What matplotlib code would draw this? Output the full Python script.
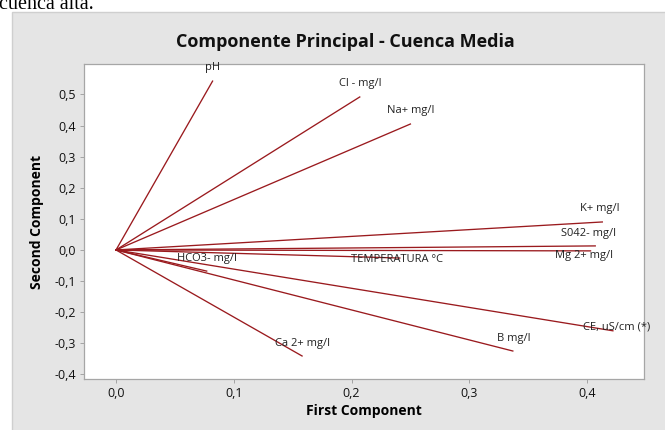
import matplotlib.pyplot as plt
from matplotlib.patches import Rectangle
from matplotlib.ticker import FuncFormatter

# Loadings (first / second component)
variables = ["pH", "Cl - mg/l", "Na+ mg/l", "K+ mg/l", "S042- mg/l", "Mg 2+ mg/l",
             "TEMPERATURA °C", "HCO3- mg/l", "Ca 2+ mg/l", "B mg/l", "CE, uS/cm (*)"]
pc1 = [0.082, 0.207, 0.250, 0.413, 0.407, 0.403, 0.241, 0.077, 0.158, 0.337, 0.422]
pc2 = [0.543, 0.492, 0.405, 0.090, 0.013, -0.003, -0.026, -0.068, -0.341, -0.325, -0.260]

# label offsets in points (x, y) from the vector tip
label_offsets = [(0, 10), (0, 10), (0, 10), (-2, 10), (-5, 9), (-5, -3), (-2, -1),
                 (0, 9), (0, 9), (1, 9), (3, 3)]

line_color = "#9A1A1E"
bg_gray = "#E5E5E5"

plt.rcParams["font.family"] = ["Open Sans", "DejaVu Sans"]

fig = plt.figure(figsize=(6.65, 4.3), dpi=100)
fig.patch.set_facecolor("white")

# gray frame of the Minitab graph
fig.patches.append(Rectangle((12 / 665, -0.01), 1, 1.01 - 12 / 430, transform=fig.transFigure,
                             facecolor=bg_gray, edgecolor="#CFCFCF", linewidth=1, zorder=-10))
# leftover caption from the page above the chart
fig.text(-0.002, 1 - 9 / 430, "cuenca alta.", family="Liberation Serif", fontsize=14.5,
         va="baseline", ha="left", color="black")

ax = fig.add_axes([84 / 665, 1 - 379 / 430, (644 - 84) / 665, (379 - 64) / 430])
ax.set_facecolor("white")

for x, y, name, off in zip(pc1, pc2, variables, label_offsets):
    ax.plot([0, x], [0, y], color=line_color, linewidth=0.95)
    ax.annotate(name, (x, y), xytext=off, textcoords="offset points",
                ha="center", va="center", fontsize=8, color="#222222")

ax.set_xlim(-0.0272, 0.4484)
ax.set_ylim(-0.415, 0.598)
ax.set_xticks([0.0, 0.1, 0.2, 0.3, 0.4])
ax.set_yticks([-0.4, -0.3, -0.2, -0.1, 0.0, 0.1, 0.2, 0.3, 0.4, 0.5])
comma = FuncFormatter(lambda v, p: f"{v:.1f}".replace(".", ","))
ax.xaxis.set_major_formatter(comma)
ax.yaxis.set_major_formatter(comma)
ax.tick_params(axis="both", labelsize=9, length=3, width=0.6, color="#999999",
               labelcolor="#111111", pad=3)

for side in ["top", "right", "left", "bottom"]:
    ax.spines[side].set_color("#A6A6A6")
    ax.spines[side].set_linewidth(0.9)

ax.set_xlabel("First Component", fontsize=10, fontweight="bold", labelpad=3)
ax.set_ylabel("Second Component", fontsize=10, fontweight="bold", labelpad=7)
fig.text(345 / 665, 1 - 42 / 430, "Componente Principal - Cuenca Media", ha="center",
         va="center", fontsize=13, fontweight="bold", color="#111111")

plt.savefig("out.png", dpi=100)
